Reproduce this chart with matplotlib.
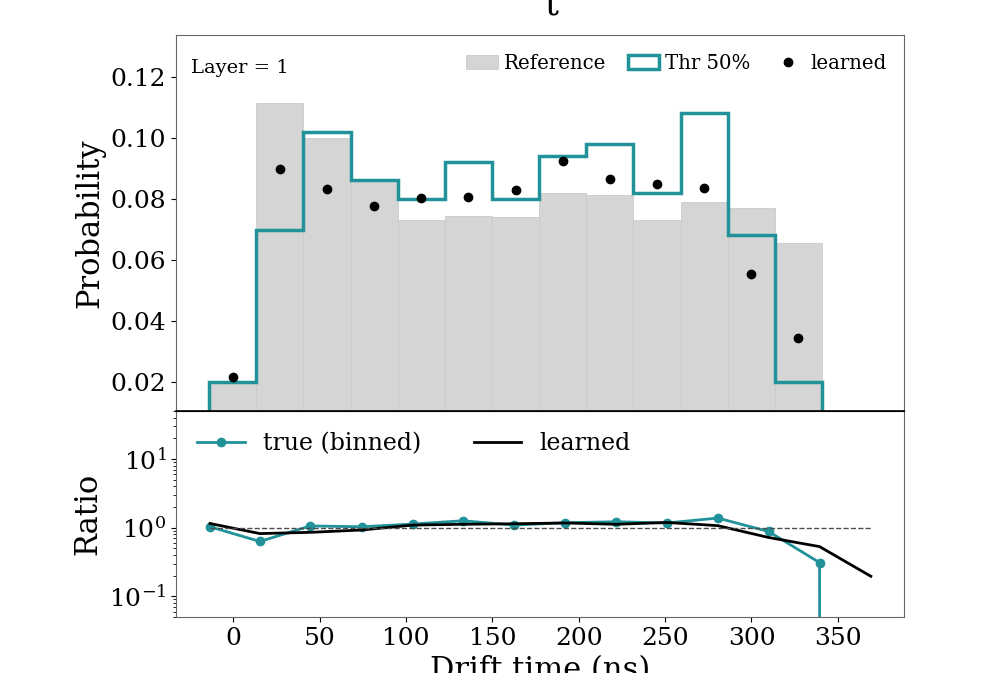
import numpy as np
import matplotlib
matplotlib.use('Agg')
import matplotlib.pyplot as plt

# histogram binning (drift time, ns)
bin_edges = np.linspace(-13.9, 340.8, 14)
bin_centers = 0.5 * (bin_edges[:-1] + bin_edges[1:])

reference = [0.0198, 0.1116, 0.1001, 0.0858, 0.0732, 0.0745, 0.0742,
             0.0821, 0.0814, 0.0732, 0.0791, 0.0771, 0.0656]
thr_50 = [0.0200, 0.0699, 0.1020, 0.0862, 0.0800, 0.0922, 0.0800,
          0.0941, 0.0981, 0.0821, 0.1081, 0.0680, 0.0200]
learned = [0.0217, 0.0897, 0.0833, 0.0777, 0.0802, 0.0806, 0.0830,
           0.0923, 0.0864, 0.0848, 0.0835, 0.0555, 0.0344]

# ratio panel
ratio_x = [-13.4, 15.5, 44.7, 74.4, 103.9, 133.0, 162.7,
           192.2, 221.6, 251.1, 280.5, 309.9, 339.4, 369.1]
ratio_true = [1.03, 0.63, 1.06, 1.03, 1.13, 1.26, 1.09,
              1.18, 1.22, 1.17, 1.38, 0.88, 0.31, 0.0]
ratio_learned = [1.15, 0.82, 0.855, 0.925, 1.09, 1.12, 1.14,
                 1.17, 1.12, 1.19, 1.07, 0.72, 0.53, 0.196]

teal = '#21929a'
gray = '#d5d5d5'
spine_color = '0.4'

plt.rcParams['font.family'] = ['DejaVu Serif']
plt.rcParams['mathtext.fontset'] = 'dejavuserif'


def main():
    fig = plt.figure(figsize=(9.89, 6.73), dpi=100)
    ax = fig.add_axes([0.178, 0.3893, 0.736, 0.5587])
    axr = fig.add_axes([0.178, 0.0832, 0.736, 0.3061], sharex=ax)

    ax.hist(bin_centers, bins=bin_edges, weights=reference, color=gray,
            edgecolor='#cacaca', linewidth=0.6, label='Reference')
    ax.hist(bin_centers, bins=bin_edges, weights=thr_50, histtype='step',
            color=teal, linewidth=2.5, label='Thr 50%')
    ax.plot(bin_centers, learned, 'o', color='k', ms=6, label='learned')

    ax.set_ylim(0.0104, 0.1338)
    ax.set_yticks([0.02, 0.04, 0.06, 0.08, 0.10, 0.12])
    ax.set_ylabel('Probability', fontsize=22)
    ax.tick_params(axis='y', labelsize=18)
    ax.tick_params(axis='x', bottom=False, labelbottom=False)
    ax.text(0.021, 0.935, 'Layer = 1', transform=ax.transAxes,
            fontsize=14, va='top', ha='left')
    ax.legend(loc='upper right', ncol=3, frameon=False, fontsize=14.2,
              handlelength=1.6, handletextpad=0.3, columnspacing=1.1,
              bbox_to_anchor=(1.0, 0.997))
    for s in ax.spines.values():
        s.set_color(spine_color)
    ax.spines['bottom'].set_color('k')
    ax.spines['bottom'].set_linewidth(1.2)

    axr.plot(ratio_x, ratio_true, '-o', color=teal, lw=2, ms=6,
             label='true (binned)')
    axr.plot(ratio_x, ratio_learned, '-', color='k', lw=2, label='learned')
    axr.hlines(1.0, ratio_x[0], ratio_x[-1], colors='0.3',
               linestyles='--', lw=1)
    axr.set_yscale('log')
    axr.set_ylim(0.05, 50)
    axr.set_ylabel('Ratio', fontsize=22)
    axr.set_xlabel('Drift time (ns)', fontsize=22)
    axr.tick_params(labelsize=18)
    axr.legend(loc='upper left', ncol=2, frameon=False, fontsize=17,
               columnspacing=2.2)
    for s in axr.spines.values():
        s.set_color(spine_color)
    axr.spines['top'].set_color('k')

    fig.align_ylabels([ax, axr])
    # title sits partly above the figure edge, as in the reference
    fig.text(0.558, 1 - 16 / 673, 't', ha='center', va='baseline', fontsize=25)

    fig.savefig('out.png', dpi=100)


if __name__ == '__main__':
    main()
